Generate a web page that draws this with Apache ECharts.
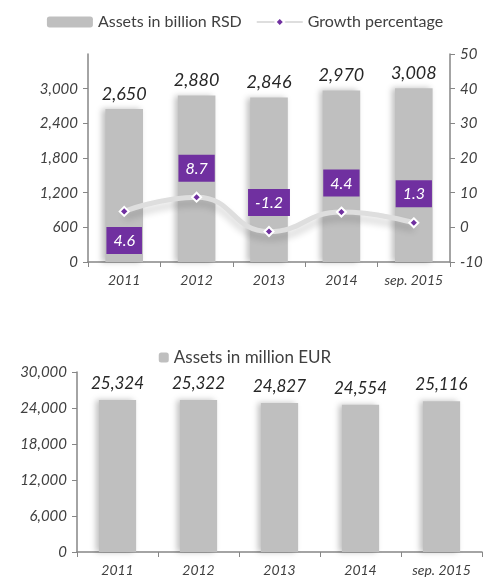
<!DOCTYPE html>
<html>
<head>
  <meta charset="utf-8">
  <title>Banking sector assets</title>
  <script src="https://cdn.jsdelivr.net/npm/echarts@6/dist/echarts.min.js"></script>
  <style>
    html, body { margin: 0; padding: 0; background: #fff; }
    #chart { width: 490px; height: 580px; }
  </style>
</head>
<body>
<div id="chart"></div>
<script>
  // data
  const years = ['2011', '2012', '2013', '2014', 'sep. 2015'];
  const assetsRsd = [2650, 2880, 2846, 2970, 3008];      // billion RSD
  const growthPct = [4.6, 8.7, -1.2, 4.4, 1.3];          // %
  const assetsEur = [25324, 25322, 24827, 24554, 25116]; // million EUR

  const FONT = 'Lato';
  const TXT = '#404040';
  const AXIS = '#868686';
  const BAR = '#bfbfbf';
  const PURPLE = '#7030a0';

  const chart = echarts.init(document.getElementById('chart'));

  const fmt = function (v) { return v.toLocaleString('en-US'); };

  const catAxis = function (grid) {
    return {
      type: 'category',
      gridIndex: grid,
      data: years,
      axisLine: { lineStyle: { color: AXIS, width: 1.5 } },
      axisTick: { show: true, length: 5, lineStyle: { color: AXIS } },
      axisLabel: { interval: 0, color: TXT, fontFamily: FONT, fontStyle: 'italic', fontSize: 14, margin: 11 }
    };
  };

  const valAxis = function (extra) {
    return Object.assign({
      type: 'value',
      axisLine: { show: true, lineStyle: { color: AXIS, width: 1.5 } },
      axisTick: { show: true, length: 5, lineStyle: { color: AXIS } },
      splitLine: { show: false }
    }, extra);
  };

  const tickLabel = { color: TXT, fontFamily: FONT, fontStyle: 'italic', fontSize: 15, margin: 10 };

  chart.setOption({
    animation: false,
    textStyle: { fontFamily: FONT },
    legend: [
      {
        top: 9, left: 'center',
        itemGap: 14,
        itemWidth: 46, itemHeight: 11,
        textStyle: { color: TXT, fontSize: 16, fontFamily: FONT },
        data: ['Assets in billion RSD', 'Growth percentage']
      },
      {
        top: 344, left: 'center',
        itemWidth: 10, itemHeight: 10,
        textStyle: { color: TXT, fontSize: 17, fontFamily: FONT },
        data: ['Assets in million EUR']
      }
    ],
    grid: [
      { left: 88, right: 40, top: 54, height: 208 },
      { left: 77, right: 8, top: 372, height: 180 }
    ],
    xAxis: [catAxis(0), catAxis(1)],
    yAxis: [
      valAxis({
        gridIndex: 0, min: 0, max: 3600, interval: 600,
        axisLabel: Object.assign({}, tickLabel, { showMaxLabel: false, formatter: fmt })
      }),
      valAxis({
        gridIndex: 0, position: 'right', min: -10, max: 50, interval: 10,
        axisLabel: tickLabel
      }),
      valAxis({
        gridIndex: 1, min: 0, max: 30000, interval: 6000,
        axisLabel: Object.assign({}, tickLabel, { formatter: fmt })
      })
    ],
    series: [
      {
        name: 'Assets in billion RSD',
        type: 'bar',
        xAxisIndex: 0, yAxisIndex: 0,
        barWidth: '52%',
        itemStyle: { color: BAR, shadowColor: 'rgba(0,0,0,0.25)', shadowBlur: 6, shadowOffsetX: -3 },
        label: {
          show: true, position: 'top', distance: 6,
          color: '#262626', fontFamily: FONT, fontStyle: 'italic', fontSize: 18,
          formatter: function (p) { return fmt(p.value); }
        },
        data: assetsRsd
      },
      {
        name: 'Growth percentage',
        type: 'line',
        xAxisIndex: 0, yAxisIndex: 1,
        smooth: true,
        symbol: 'diamond',
        symbolSize: 9,
        lineStyle: { color: '#dedede', width: 5, shadowColor: 'rgba(0,0,0,0.18)', shadowBlur: 7, shadowOffsetY: 6 },
        itemStyle: { color: PURPLE, borderColor: '#fff', borderWidth: 2 },
        label: {
          show: true, position: 'top', distance: 10,
          backgroundColor: PURPLE, color: '#fff',
          fontFamily: FONT, fontStyle: 'italic', fontSize: 16,
          padding: [6, 7, 5, 7]
        },
        data: growthPct.map(function (v, i) {
          return i === 0 ? { value: v, label: { position: 'bottom' } } : v;
        }),
        z: 3
      },
      {
        name: 'Assets in million EUR',
        type: 'bar',
        xAxisIndex: 1, yAxisIndex: 2,
        barWidth: '46%',
        itemStyle: { color: BAR, shadowColor: 'rgba(0,0,0,0.25)', shadowBlur: 6, shadowOffsetX: -3 },
        label: {
          show: true, position: 'top', distance: 8,
          color: '#262626', fontFamily: FONT, fontStyle: 'italic', fontSize: 17,
          formatter: function (p) { return fmt(p.value); }
        },
        data: assetsEur
      }
    ]
  });
</script>
</body>
</html>
